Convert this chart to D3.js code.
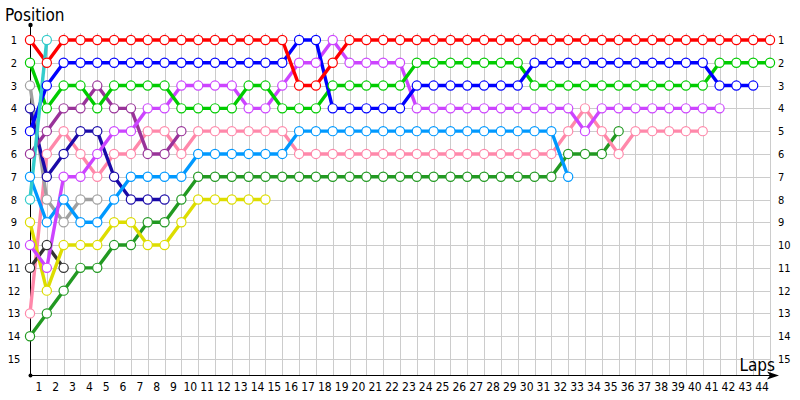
<!DOCTYPE html>
<html>
<head>
<meta charset="utf-8">
<script src="https://cdn.jsdelivr.net/npm/d3@7"></script>
<style>
  body { margin: 0; background: #fff; }
  svg { display: block; }
  text { font-family: Tahoma, "DejaVu Sans Condensed", "DejaVu Sans", sans-serif; fill: #000; }
</style>
</head>
<body>
<svg id="chart" width="800" height="400"></svg>
<script>
// ---- data (positions per lap, starting at lap 0) ----
const lapTicks = d3.range(1, 45);
const positionTicks = d3.range(1, 16);

const red       = [1,2,1,1,1,1,1,1,1,1,1,1,1,1,1,1,3,3,2,1,1,1,1,1,1,1,1,1,1,1,1,1,1,1,1,1,1,1,1,1,1,1,1,1,1];
const blue      = [5,3,2,2,2,2,2,2,2,2,2,2,2,2,2,2,1,1,4,4,4,4,4,3,3,3,3,3,3,3,2,2,2,2,2,2,2,2,2,2,2,3,3,3];
const green     = [2,4,3,3,4,3,3,3,3,4,4,4,4,3,3,4,4,4,3,3,3,3,3,2,2,2,2,2,2,2,3,3,3,3,3,3,3,3,3,3,3,2,2,2,2];
const gray      = [3,8,9,8,8];
const darkBlue  = [4,7,6,5,5,7,8,8,8];
const purple    = [6,5,4,4,3,4,4,6,6,5];
const lightBlue = [7,9,8,9,9,8,7,7,7,7,6,6,6,6,6,6,5,5,5,5,5,5,5,5,5,5,5,5,5,5,5,5,7];
const turquoise = [8,1];
const yellow    = [9,12,10,10,10,9,9,10,10,9,8,8,8,8,8];
const violet    = [10,11,7,7,6,5,5,4,4,3,3,3,3,4,4,3,2,2,1,2,2,2,2,4,4,4,4,4,4,4,4,4,4,5,4,4,4,4,4,4,4,4];
const darkGray  = [11,10,11];
const pink      = [13,6,5,6,7,6,6,5,5,6,5,5,5,5,5,5,6,6,6,6,6,6,6,6,6,6,6,6,6,6,6,6,5,4,5,6,5,5,5,5,5];
const darkGreen = [14,13,12,11,11,10,10,9,9,8,7,7,7,7,7,7,7,7,7,7,7,7,7,7,7,7,7,7,7,7,7,7,6,6,6,5];

const seriesNames  = ["darkGreen","pink","darkGray","yellow","gray","darkBlue","purple","lightBlue","violet","green","blue","red","turquoise"];
const seriesValues = [darkGreen, pink, darkGray, yellow, gray, darkBlue, purple, lightBlue, violet, green, blue, red, turquoise];
const seriesColors = ["#229922","#ff88aa","#333333","#dddd00","#a0a0a0","#1a0aa8","#993399","#0099ff","#cc44ff","#00cc00","#0000ff","#ff0000","#33cccc"];

// ---- chart ----
const svg = d3.select("#chart");
const x = d3.scaleLinear().domain([0, 44]).range([30, 770]);
const y = d3.scaleLinear().domain([1, 15]).range([40, 359]);

// grid
const grid = svg.append("g").attr("stroke", "#cccccc").attr("stroke-width", 1).attr("shape-rendering", "crispEdges");
grid.selectAll("line.v").data(lapTicks).join("line")
  .attr("x1", d => Math.round(x(d)) + 0.5).attr("x2", d => Math.round(x(d)) + 0.5)
  .attr("y1", 33).attr("y2", 375);
grid.selectAll("line.h").data(positionTicks).join("line")
  .attr("x1", 30).attr("x2", 770)
  .attr("y1", d => Math.round(y(d)) + 0.5).attr("y2", d => Math.round(y(d)) + 0.5);

// axes lines
svg.append("line").attr("x1", 30.5).attr("x2", 30.5).attr("y1", 25).attr("y2", 375)
  .attr("stroke", "#000").attr("stroke-width", 1);
svg.append("line").attr("x1", 30).attr("x2", 772).attr("y1", 375.5).attr("y2", 375.5)
  .attr("stroke", "#000").attr("stroke-width", 1);
svg.append("path").attr("d", "M779,375.5 L767,371.5 L770,375.5 L767,379.5 Z").attr("fill", "#000");
svg.append("circle").attr("cx", 30.5).attr("cy", 25).attr("r", 2.2).attr("fill", "#000");
svg.append("circle").attr("cx", 30.5).attr("cy", 375.5).attr("r", 2).attr("fill", "#000");

// x axis labels (centered between laps)
const xAxis = d3.axisBottom(x).tickValues(lapTicks).tickSize(0).tickPadding(0).tickFormat(d3.format("d"));
const gx = svg.append("g").attr("transform", "translate(0,375)").call(xAxis);
gx.select(".domain").remove();
gx.selectAll("text").attr("dx", -(x(1) - x(0)) / 2).attr("dy", "1.35em")
  .style("font-size", "12px").attr("fill", "#000");

// y axis labels left
const yAxisL = d3.axisLeft(y).tickValues(positionTicks).tickSize(0).tickFormat(d3.format("d"));
const gyl = svg.append("g").attr("transform", "translate(30,0)").call(yAxisL);
gyl.select(".domain").remove();
gyl.selectAll("text").attr("x", -16).attr("text-anchor", "middle").style("font-size", "11px").attr("fill", "#000");

// y axis labels right
const yAxisR = d3.axisRight(y).tickValues(positionTicks).tickSize(0).tickPadding(8).tickFormat(d3.format("d"));
const gyr = svg.append("g").attr("transform", "translate(770,0)").call(yAxisR);
gyr.select(".domain").remove();
gyr.selectAll("text").style("font-size", "11px").attr("fill", "#000");

// titles
svg.append("text").attr("x", 5).attr("y", 21).style("font-size", "17px").text("Position");
svg.append("text").attr("x", 775).attr("y", 371).attr("text-anchor", "end").style("font-size", "17px").text("Laps");

// lines
const line = d3.line().x((d, i) => x(i)).y(d => y(d));
const linesG = svg.append("g");
seriesValues.forEach((vals, k) => {
  linesG.append("path").datum(vals)
    .attr("fill", "none").attr("stroke", seriesColors[k]).attr("stroke-width", 3.4)
    .attr("stroke-linejoin", "round").attr("d", line);
});
// markers
const dotsG = svg.append("g");
seriesValues.forEach((vals, k) => {
  dotsG.append("g").selectAll("circle").data(vals).join("circle")
    .attr("cx", (d, i) => x(i)).attr("cy", d => y(d)).attr("r", 4.6)
    .attr("fill", "#fff").attr("stroke", seriesColors[k]).attr("stroke-width", 1.2);
});
</script>
</body>
</html>
